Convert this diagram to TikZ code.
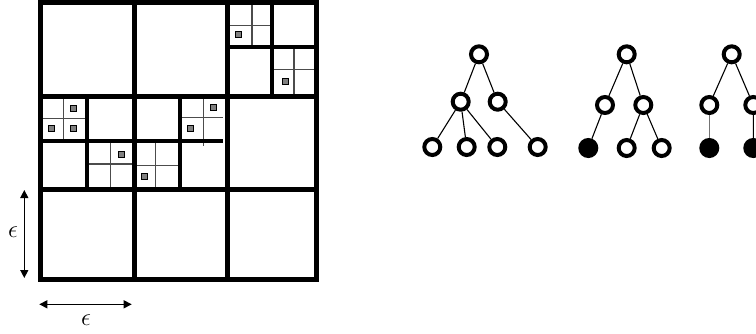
\documentclass[tikz,border=0pt]{standalone}
\usetikzlibrary{arrows.meta}
\begin{document}
\begin{tikzpicture}[x=1pt,y=-1pt,
  thickline/.style={line width=5pt,line cap=rect},
  medline/.style={line width=4pt},
  thinline/.style={line width=1.1pt,draw=black!70},
  pt/.style={draw=black,line width=1pt,fill=black!50,minimum size=6pt,inner sep=0pt,rectangle},
  tn/.style={circle,draw=black,line width=4pt,minimum size=16pt,inner sep=0pt},
  tf/.style={circle,fill=black,draw=black,line width=4pt,minimum size=16pt,inner sep=0pt},
  edge/.style={line width=1.1pt},
  dim/.style={line width=1.4pt,{Triangle[length=8pt,width=8pt]}-{Triangle[length=8pt,width=8pt]}},
  lab/.style={font=\fontsize{25}{25}\selectfont,inner sep=0pt}]
\useasboundingbox (0,0) rectangle (756,333);
\clip (0,0) rectangle (756,333);
% thin subdivisions
\draw[thinline] (252,2) -- (252,46.5) (227,25.6) -- (272,25.6);
\draw[thinline] (294,46.5) -- (294,96) (270,69.3) -- (316,69.3);
\draw[thinline] (63.7,96) -- (63.7,141) (40,118.7) -- (86.5,118.7);
\draw[thinline] (110.3,141) -- (110.3,189.5) (86.5,164) -- (134,164);
\draw[thinline] (203.3,96) -- (203.3,146) (181,117.7) -- (223,117.7);
\draw[thinline] (155.7,141) -- (155.7,189.5) (134,165.7) -- (179.5,165.7);
% medium subdivisions
\draw[medline] (272,2) -- (272,96) (227,46.5) -- (316,46.5);
\draw[medline] (40,141) -- (223,141);
\draw[medline] (86.5,96) -- (86.5,189.5) (179.5,96) -- (179.5,189.5);
% main grid
\draw[thickline] (40,2) rectangle (316.5,279.5);
\draw[thickline] (134,2) -- (134,279.5) (227,2) -- (227,279.5);
\draw[thickline] (40,96) -- (316.5,96) (40,189.5) -- (316.5,189.5);
% points
\node[pt] (p1) at (238.3,34.7) {};
\node[pt] (p2) at (285,81.3) {};
\node[pt] (p3) at (73.3,108.8) {};
\node[pt] (p4) at (51,128.3) {};
\node[pt] (p5) at (73.3,128.3) {};
\node[pt] (p6) at (121.3,154.2) {};
\node[pt] (p7) at (213.3,107.7) {};
\node[pt] (p8) at (190,128) {};
\node[pt] (p9) at (144.7,176) {};
% dimension arrows
\coordinate (va) at (24.3,190);
\coordinate (vb) at (24.3,278);
\coordinate (ha) at (39.3,304.3);
\coordinate (hb) at (131.7,304.3);
\draw[dim] (va) -- (vb);
\draw[dim] (ha) -- (hb);
\node[lab] (e1) at (13,232) {$\epsilon$};
\node[lab] (e2) at (86,320) {$\epsilon$};
% tree 1
\node[tn] (a0) at (479,54.3) {};
\node[tn] (a1) at (460.7,101.7) {};
\node[tn] (a2) at (497.7,101.7) {};
\node[tn] (a3) at (432.3,147) {};
\node[tn] (a4) at (466.7,147) {};
\node[tn] (a5) at (497.3,147) {};
\node[tn] (a6) at (537.7,147) {};
\draw[edge] (a0) -- (a1) (a0) -- (a2) (a1) -- (a3) (a1) -- (a4) (a1) -- (a5) (a2) -- (a6);
% tree 2
\node[tn] (b0) at (626.7,54.3) {};
\node[tn] (b1) at (605,105) {};
\node[tn] (b2) at (643.3,105) {};
\node[tf] (b3) at (588.3,148) {};
\node[tn] (b4) at (626.7,148) {};
\node[tn] (b5) at (661.7,148) {};
\draw[edge] (b0) -- (b1) (b0) -- (b2) (b1) -- (b3) (b2) -- (b4) (b2) -- (b5);
% tree 3
\node[tn] (c0) at (731.7,54.3) {};
\node[tn] (c1) at (709.3,105) {};
\node[tn] (c2) at (753.3,105) {};
\node[tf] (c3) at (709.3,148) {};
\node[tf] (c4) at (753.3,148) {};
\draw[edge] (c0) -- (c1) (c0) -- (c2) (c2) -- (c4);
\draw[edge,draw=black!55] (c1) -- (c3);
\end{tikzpicture}
\end{document}
